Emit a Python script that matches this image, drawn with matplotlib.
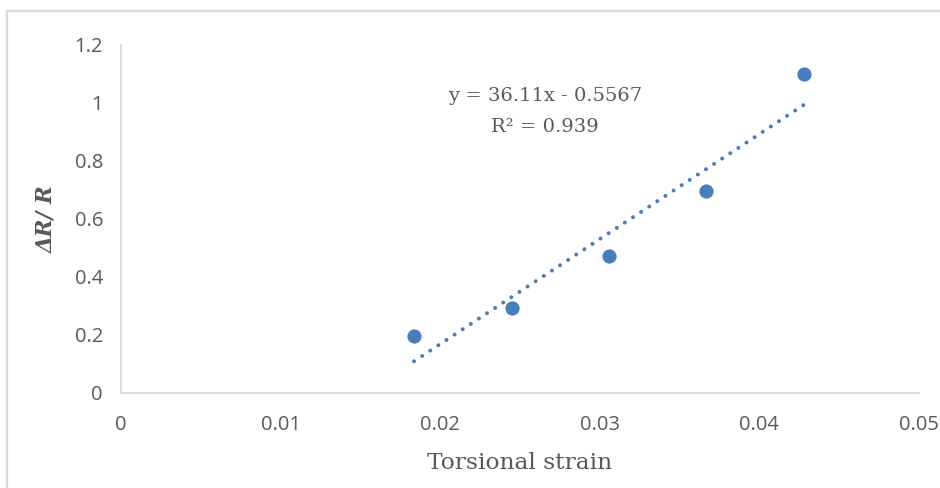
import numpy as np
import matplotlib
matplotlib.use("Agg")
import matplotlib.pyplot as plt
from matplotlib.lines import Line2D

strain = [0.01836, 0.0245, 0.03058, 0.03665, 0.0428]
dr_r = [0.197, 0.293, 0.472, 0.697, 1.10]

x_ticks = [0, 0.01, 0.02, 0.03, 0.04, 0.05]
x_tick_labels = ["0", "0.01", "0.02", "0.03", "0.04", "0.05"]
y_ticks = [0, 0.2, 0.4, 0.6, 0.8, 1.0, 1.2]
y_tick_labels = ["0", "0.2", "0.4", "0.6", "0.8", "1", "1.2"]

blue = "#4a7ebb"
grey_text = "#595959"
serif = ["DejaVu Serif"]

fig = plt.figure(figsize=(9.4, 4.88), dpi=100)
ax = fig.add_axes([0.1287, 0.1947, 0.849, 0.7131])

# chart frame, only the left and top edges are inside the picture
frame_x = 7.5 / 940
frame_y = 1 - 10.5 / 488
fig.add_artist(Line2D([frame_x, frame_x], [0, frame_y], color="#d9d9d9", lw=1.6))
fig.add_artist(Line2D([frame_x, 1], [frame_y, frame_y], color="#d9d9d9", lw=1.6))

ax.scatter(strain, dr_r, s=105, color=blue, zorder=3, linewidths=0)

slope, intercept = np.polyfit(strain, dr_r, 1)
xs = np.array([min(strain), max(strain)])
ax.plot(xs, slope * xs + intercept, color=blue, linestyle=(0, (0.01, 2.4)),
        linewidth=2.9, dash_capstyle="round", zorder=2)

ax.text(0.02657, 1.024, "y = 36.11x - 0.5567", ha="center", va="center",
        fontsize=14, color=grey_text, family=serif)
ax.text(0.02657, 0.917, "R² = 0.939", ha="center", va="center",
        fontsize=14, color=grey_text, family=serif)

ax.set_xlim(0, 0.05)
ax.set_ylim(0, 1.2)
ax.set_xticks(x_ticks)
ax.set_xticklabels(x_tick_labels)
ax.set_yticks(y_ticks)
ax.set_yticklabels(y_tick_labels)
ax.tick_params(length=0, labelsize=14.5, colors=grey_text, pad=16)
ax.tick_params(axis="y", pad=13)
for lab in ax.get_xticklabels() + ax.get_yticklabels():
    lab.set_family("Open Sans")

for side in ("top", "right"):
    ax.spines[side].set_visible(False)
for side in ("left", "bottom"):
    ax.spines[side].set_color("#d9d9d9")
    ax.spines[side].set_linewidth(1.3)

ax.set_xlabel("Torsional strain", fontsize=16.8, color=grey_text,
              family=serif, labelpad=12)
ax.set_ylabel("ΔR/ R", fontsize=15.5, color=grey_text, family=serif,
              fontweight="bold", fontstyle="italic", labelpad=12)

fig.savefig("out.png", dpi=100)
